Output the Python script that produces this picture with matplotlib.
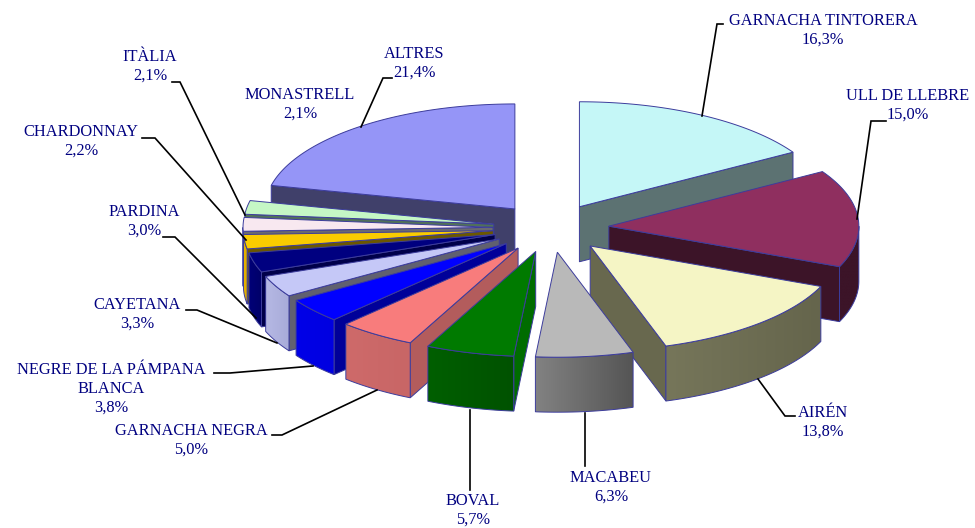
import numpy as np
import matplotlib
matplotlib.use("Agg")
import matplotlib.pyplot as plt
from matplotlib.patches import Polygon

names = ["GARNACHA TINTORERA", "ULL DE LLEBRE", "AIRÉN", "MACABEU", "BOVAL", "GARNACHA NEGRA",
         "NEGRE DE LA PÁMPANA\nBLANCA", "CAYETANA", "PARDINA", "CHARDONNAY", "ITÀLIA", "MONASTRELL", "ALTRES"]
values = [16.3, 15.0, 13.8, 6.3, 5.7, 5.0, 3.8, 3.3, 3.0, 2.2, 2.1, 2.1, 21.4]
top_colors = ["#C5F7F7", "#8F2F5F", "#F5F5C5", "#B9B9B9", "#007A00", "#F87C7C", "#0000FF",
              "#C5C8F7", "#000080", "#FACC00", "#F8E8F0", "#C5F7C5", "#9595F7"]
side_colors = ["#5C7272", "#3C1428", "#68684E", "#606060", "#006C00", "#B35C5C", "#000099",
               "#606070", "#00004A", "#6B5700", "#6A6A70", "#50705A", "#40406A"]
outer_left = ["#5C7272", "#3C1428", "#76765A", "#828282", "#005F00", "#CE6A6A", "#0000E8",
              "#B5B8E4", "#000078", "#E8B400", "#E0D0D8", "#B0D8B0", "#40406A"]
outer_right = ["#5C7272", "#3C1428", "#65654C", "#555555", "#005200", "#C86666", "#0000E0",
               "#A8ABD8", "#000068", "#D8A800", "#D0C0C8", "#A0C8A0", "#40406A"]
draw_order = [12, 11, 10, 9, 8, 7, 6, 5, 4, 0, 1, 2, 3]

label_x = [823, 908, 823, 611, 473, 191, 111, 137, 144, 81, 150, 300, 414]
label_y = [21, 96, 413, 478, 501, 431, 370, 305, 212, 132, 57, 95, 54]
leaders = [[(723, 24), (717, 24), (702, 116)], [(886, 121), (871, 121), (857, 219)],
           [(758, 379), (785, 416), (795, 416)], [(585, 413), (585, 466)],
           [(470, 410), (470, 490)], [(377, 390), (282, 435), (272, 435)],
           [(313, 366), (230, 373), (214, 373)], [(277, 343), (197, 310), (186, 310)],
           [(256, 318), (175, 237), (163, 237)], [(246, 240), (155, 138), (142, 138)],
           [(245, 215), (180, 82), (172, 82)], [(0, 0)],
           [(361, 127), (383, 78), (392, 78)]]

CX, CY = 551, 228
RX, RY = 250, 105
EXPLODE = 0.232
DEPTH = 55
EDGE = "#3C3C9C"
TEXT = "#000080"

plt.rcParams["font.family"] = ["Liberation Serif", "DejaVu Sans"]
fig = plt.figure(figsize=(9.75, 5.28), dpi=100)
ax = fig.add_axes([0, 0, 1, 1])


def hex_rgb(c):
    return np.array(matplotlib.colors.to_rgb(c))


def pt(ax0, ay0, t):
    return ax0 + RX * np.sin(t), ay0 - RY * np.cos(t)


for seq, i in enumerate(draw_order):
    z = seq * 10
    a0 = np.radians(sum(values[:i]) * 3.6)
    a1 = np.radians(sum(values[:i + 1]) * 3.6)
    mid = (a0 + a1) / 2
    ox = CX + EXPLODE * RX * np.sin(mid)
    oy = CY - EXPLODE * RY * np.cos(mid)
    ts = np.linspace(a0, a1, 80)
    xs, ys = pt(ox, oy, ts)

    # radial walls facing the viewer
    for t, vis in ((a0, np.sin(a0) < 0), (a1, np.sin(a1) > 0)):
        if vis:
            px, py = pt(ox, oy, t)
            ax.add_patch(Polygon([(ox, oy), (px, py), (px, py + DEPTH), (ox, oy + DEPTH)],
                                 closed=True, fc=side_colors[i], ec=EDGE, lw=0.7, zorder=z))

    # outer curved wall with a left-to-right shade
    lo, hi = max(a0, np.pi / 2), min(a1, 3 * np.pi / 2)
    if hi > lo:
        tw = np.linspace(lo, hi, 50)
        wx, wy = pt(ox, oy, tw)
        cl, cr = hex_rgb(outer_left[i]), hex_rgb(outer_right[i])
        outline = list(zip(wx, wy)) + list(zip(wx[::-1], wy[::-1] + DEPTH))
        shape = Polygon(outline, closed=True, fc="none", ec=EDGE, lw=0.7, zorder=z + 2)
        ax.add_patch(shape)
        ramp = np.linspace(0, 1, 64)[None, :, None]
        img = cl[None, None, :] + (cr - cl)[None, None, :] * ramp
        im = ax.imshow(img, extent=(wx.min(), wx.max(), wy.max() + DEPTH, wy.min()),
                       aspect="auto", interpolation="bilinear", zorder=z + 1)
        im.set_clip_path(shape)

    # top face
    top = [(ox, oy)] + list(zip(xs, ys))
    ax.add_patch(Polygon(top, closed=True, fc=top_colors[i], ec=EDGE, lw=0.7, zorder=z + 3))

for i, name in enumerate(names):
    if len(leaders[i]) > 1:
        lx, ly = zip(*leaders[i])
        ax.plot(lx, ly, color="black", lw=1.2, zorder=200, solid_joinstyle="miter")
    lines = name.split("\n") + [f"{values[i]:.1f}%".replace(".", ",")]
    for k, line in enumerate(lines):
        ax.text(label_x[i], label_y[i] + 18.7 * k, line, ha="center", va="center",
                fontsize=11.8, color=TEXT, zorder=201)

ax.set_xlim(0, 975)
ax.set_ylim(528, 0)
ax.axis("off")
fig.savefig("out.png", dpi=100, facecolor="white")
